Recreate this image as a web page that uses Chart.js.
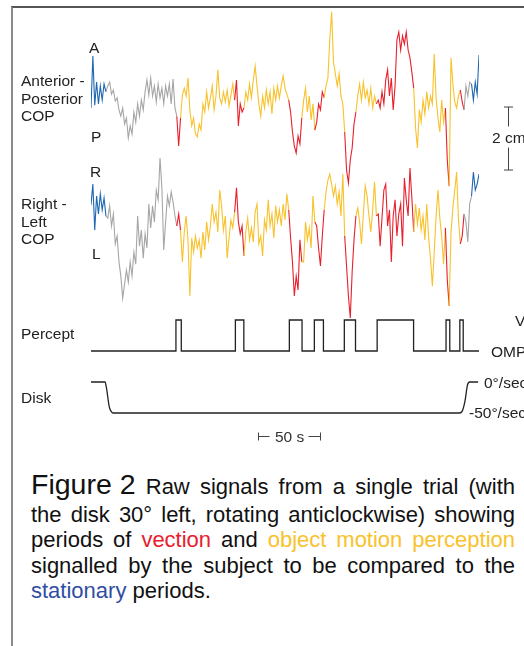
<!DOCTYPE html>
<html>
<head>
<meta charset="utf-8">
<script src="https://cdn.jsdelivr.net/npm/chart.js@4.4.1/dist/chart.umd.min.js"></script>
<style>
  html, body { margin: 0; padding: 0; background: #fff; }
  body {
    width: 524px; height: 646px; position: relative; overflow: hidden;
    font-family: "Liberation Sans", Arial, Helvetica, sans-serif; color: #1a1a1a;
  }
  #frame {
    position: absolute; left: 11px; top: 6px; width: 540px; height: 660px;
    border-top: 2px solid #555; border-left: 2px solid #8a8a8a;
  }
  #chart { position: absolute; left: 0; top: 0; }
  .lbl { position: absolute; font-size: 15.5px; line-height: 17.5px; white-space: nowrap; color: #222; }
  #caption { position: absolute; left: 31px; top: 472px; width: 484px; font-size: 22px; line-height: 25.3px; color: #111; }
  #caption .line { text-align: justify; text-align-last: justify; white-space: nowrap; }
  #caption .first { height: 30px; }
  #caption .last { text-align: left; text-align-last: left; }
  .fig { display: inline-block; font-size: 28.5px; }
  .vec { color: #e8202e; }
  .omp { color: #f8c22c; }
  .sta { color: #2f4ea3; }
</style>
</head>
<body>
<div id="frame"></div>
<canvas id="chart" width="524" height="460"></canvas>

<div class="lbl" style="left:89px; top:39px;">A</div>
<div class="lbl" style="left:21px; top:72px;">Anterior -<br>Posterior<br>COP</div>
<div class="lbl" style="left:91px; top:128px;">P</div>

<div class="lbl" style="left:90px; top:163px;">R</div>
<div class="lbl" style="left:21px; top:195px;">Right -<br>Left<br>COP</div>
<div class="lbl" style="left:92px; top:245px;">L</div>

<div class="lbl" style="left:492px; top:129px;">2 cm</div>

<div class="lbl" style="left:21px; top:325px;">Percept</div>
<div class="lbl" style="left:515px; top:312px;">V</div>
<div class="lbl" style="left:491px; top:343px;">OMP</div>

<div class="lbl" style="left:21px; top:389px;">Disk</div>
<div class="lbl" style="left:484px; top:374px;">0°/sec</div>
<div class="lbl" style="left:469px; top:404px;">-50°/sec</div>

<div class="lbl" style="left:275px; top:428px; color:#333;">50 s</div>

<div id="caption">
  <div class="line first"><span class="fig">Figure 2</span> Raw signals from a single trial (with</div>
  <div class="line">the disk 30° left, rotating anticlockwise) showing</div>
  <div class="line">periods of <span class="vec">vection</span> and <span class="omp">object motion perception</span></div>
  <div class="line">signalled by the subject to be compared to the</div>
  <div class="line last"><span class="sta">stationary</span> periods.</div>
</div>

<script>
// one COP sample every 1.5 s
const SAMPLE_STEP_S = 1.5;

// anterior (+) / posterior (-) centre of pressure, mm
const apCop = [
  -3.8, 12.7, -2.9, 4.4, -2.5, 3.2, -1.3, 3.8, 1.3, 3.2,
  4.4, 0.6, 1.9, -1.6, -0.6, -4.4, -6.4, -3.8, -8.9, -7.0,
  -13.3, -9.5, -12.1, -5.1, -8.3, -2.5, -6.4, -1.3, -4.4, 1.3,
  5.1, 0.3, 5.7, 0, 3.2, -1.9, 3.8, -0.6, 2.5, -2.5,
  3.2, 0, 3.8, -2.5, 5.4, -3.8, -6.4, -15.9, -7.0, 0.3,
  2.5, 0, 5.7, -4.4, -9.5, -7.0, -12.1, -13.0, -8.9, -10.8,
  -2.5, -5.1, 1.3, -3.8, -0.6, 3.2, -4.4, 0, 8.3, -0.6,
  -2.5, 1.3, -1.9, 1.9, -3.2, 0.3, 3.8, -1.3, 5.1, -9.5,
  -2.5, -5.1, -3.8, 1.3, -1.3, 3.8, -0.6, 5.1, 9.5, 3.2,
  -2.5, -6.4, 0, -3.8, 1.9, -2.5, 1.3, -5.7, 2.5, -1.3,
  3.2, -0.6, 3.2, 6.4, 2.5, 0.6, -1.3, -5.1, -11.4, -15.9,
  -18.1, -12.7, -15.2, -7.0, -1.3, 2.5, -5.1, 0, -7.6, -2.5,
  -10.8, -8.3, -2.5, -4.4, 1.3, -0.6, 3.2, 5.7, 17.8, 26.7,
  10.8, 7.0, 3.2, 7.0, 0, -2.5, -11.4, -23.5, -27.6, -20.3,
  -16.5, -8.9, -5.1, 0, 3.8, -1.3, 4.4, -0.6, 1.9, -2.5,
  2.5, -3.8, 0, -2.5, -1.3, -3.8, 1.3, -2.5, 5.1, 8.3,
  0, 5.7, -4.4, 3.2, 17.8, 20.3, 14.6, 19.1, 16.5, 20.3,
  14.6, 12.1, 7.6, 2.5, -10.2, -16.5, -4.4, -8.3, -1.3, -5.7,
  1.3, -3.8, 0, -2.5, 13.3, -0.6, -7.0, -11.4, -1.3, -8.3,
  -3.8, -20.3, -28.6, 12.1, 3.8, -1.9, -3.8, 0, 1.9, -1.9,
  -4.4, 3.2, 0, 4.4, 3.8, -1.3, 4.4, 0.6, 13.0
];

// right (+) / left (-) centre of pressure, mm
const rlCop = [
  6.7, 13.3, -1.3, 9.5, 3.8, 10.2, 5.1, 8.9, 3.2, 2.5,
  6.4, 0, 3.8, -5.7, -3.2, -11.4, -15.9, -22.9, -18.4, -14.0,
  -17.8, -11.4, -15.9, -8.3, -12.1, 3.2, -6.4, -1.3, -10.2, -2.5,
  -7.0, 7.0, -0.6, 6.4, 1.3, 11.4, 8.3, 21.6, 12.1, -7.6,
  1.3, 9.5, 6.4, 10.8, 7.6, 3.2, 0, 3.8, -1.3, -11.4,
  -1.9, 3.2, -4.4, -22.2, -3.8, -8.3, -3.2, -7.0, -4.4, -10.2,
  -1.9, -7.6, 1.3, -4.4, 0, 7.0, 1.3, 4.4, -1.9, 11.4,
  6.4, -1.3, 3.2, -10.2, -3.8, 1.9, -0.6, 4.4, 12.1, 1.3,
  -2.5, 0, -9.5, -1.9, 2.5, -4.4, -0.6, -5.1, 4.4, 7.0,
  -5.7, -3.2, -9.5, 1.9, -1.3, 8.3, 0, 3.8, -3.8, 6.4,
  1.3, 5.1, 0, 7.0, 1.9, 10.2, 5.1, -3.8, -11.4, -22.2,
  -15.9, -20.3, -4.4, -11.4, -11.4, 1.3, -4.4, -0.6, -7.0, 9.5,
  1.3, 0, -7.0, -12.7, -3.2, 5.1, 10.8, 14.6, 16.5, 13.3,
  9.5, 12.7, 7.0, 10.8, 3.2, 16.5, -3.2, -12.7, -22.2, -29.2,
  -14.6, -4.4, 3.2, 5.7, 1.3, -5.7, 3.8, 12.7, 9.5, 3.2,
  -1.9, 5.1, 14.0, 3.2, 3.8, -6.4, 2.5, 11.4, 13.3, 0,
  5.1, -11.4, 3.2, 8.3, -3.2, 3.8, 7.0, -6.4, 15.2, 8.3,
  3.2, 18.4, 8.9, -1.9, 7.0, 0.6, 5.7, -1.3, 3.2, -4.4,
  7.0, -3.8, -10.2, -19.1, -8.3, 3.2, 11.4, 2.5, -3.2, -12.1,
  -0.6, -17.1, -25.4, -1.9, 5.7, 11.4, 17.1, 1.9, -5.7, -3.2,
  3.8, 1.3, -5.1, 7.0, 9.5, 17.1, 11.4, 13.3, 16.5
];

// button presses: vection (V) on / off, s
const vectionOn  = [68.3, 116.1, 159.5, 179.6, 203.7, 230.1, 285.5, 296.6];
const vectionOff = [72.6, 122.9, 169.7, 186.9, 212.7, 259.4, 288.5, 299.3];

// disk velocity, deg/s
const diskTimes = [0, 11.3, 12.3, 14.7, 16.5, 18, 296.3, 298.5, 300.8, 302.7, 304.5, 311.3];
const diskSpeed = [0, 0, -8, -40, -48, -50, -50, -47, -30, -5, 0, 0];
const diskMoveStart = 12;
const diskMoveEnd = 306;

const trialEnd = 312;

// scale bars
const cmBarTop = -3.5;     // mm on AP axis
const cmBarLength = 20;    // mm
const timeBarStart = 134;  // s
const timeBarLength = 50;  // s

const BLUE = "#1f67b1";
const GRAY = "#a6a6a6";
const YELLOW = "#f8c22c";
const RED = "#e8202e";
const INK = "#222";

function phaseColor(t) {
    if (t < diskMoveStart || t >= diskMoveEnd) return BLUE;
    if (t < vectionOn[0] || t >= vectionOff[vectionOff.length - 1]) return GRAY;
    for (let i = 0; i < vectionOn.length; i++) {
        if (t >= vectionOn[i] && t < vectionOff[i]) return RED;
    }
    return YELLOW;
}

const toPoints = (arr) => arr.map((v, i) => ({ x: i * SAMPLE_STEP_S, y: v }));

const perceptPoints = [{ x: 0, y: 0 }];
vectionOn.forEach((on, i) => {
    perceptPoints.push({ x: on, y: 0 }, { x: on, y: 1 },
                       { x: vectionOff[i], y: 1 }, { x: vectionOff[i], y: 0 });
});
perceptPoints.push({ x: trialEnd, y: 0 });

const diskPoints = diskTimes.map((t, i) => ({ x: t, y: diskSpeed[i] }));

// pixel layout of each band inside the 460px tall canvas
const CANVAS_H = 460;
function band(zeroPx, pxPerUnit) {
    return { min: -(CANVAS_H - zeroPx) / pxPerUnit, max: zeroPx / pxPerUnit };
}

const copSegment = {
    borderColor: (ctx) => phaseColor((ctx.p0.parsed.x + ctx.p1.parsed.x) / 2)
};

const scaleBars = {
    id: "scaleBars",
    afterDatasetsDraw(chart) {
        const { ctx, scales } = chart;
        ctx.save();
        ctx.strokeStyle = "#444";
        ctx.lineWidth = 1;

        // 2 cm bar
        const bx = 508.5;
        const yTop = scales.yAP.getPixelForValue(cmBarTop);
        const yBot = scales.yAP.getPixelForValue(cmBarTop - cmBarLength);
        const mid = (yTop + yBot) / 2;
        ctx.beginPath();
        ctx.moveTo(bx - 4.5, yTop); ctx.lineTo(bx + 4.5, yTop);
        ctx.moveTo(bx, yTop); ctx.lineTo(bx, mid - 12);
        ctx.moveTo(bx, mid + 9); ctx.lineTo(bx, yBot);
        ctx.moveTo(bx - 4.5, yBot); ctx.lineTo(bx + 4.5, yBot);
        ctx.stroke();

        // 50 s bar
        const ty = 436.5;
        const x0 = Math.round(scales.x.getPixelForValue(timeBarStart)) + 0.5;
        const x1 = Math.round(scales.x.getPixelForValue(timeBarStart + timeBarLength)) + 0.5;
        ctx.beginPath();
        ctx.moveTo(x0, ty - 4); ctx.lineTo(x0, ty + 4);
        ctx.moveTo(x0, ty); ctx.lineTo(x0 + 11, ty);
        ctx.moveTo(x1 - 12, ty); ctx.lineTo(x1, ty);
        ctx.moveTo(x1, ty - 4); ctx.lineTo(x1, ty + 4);
        ctx.stroke();
        ctx.restore();
    }
};

new Chart(document.getElementById("chart"), {
    type: "line",
    data: {
        datasets: [
            {
                label: "Anterior - Posterior COP",
                data: toPoints(apCop),
                yAxisID: "yAP",
                borderWidth: 1.1,
                borderColor: GRAY,
                segment: copSegment
            },
            {
                label: "Right - Left COP",
                data: toPoints(rlCop),
                yAxisID: "yRL",
                borderWidth: 1.1,
                borderColor: GRAY,
                segment: copSegment
            },
            {
                label: "Percept",
                data: perceptPoints,
                yAxisID: "yPercept",
                borderWidth: 1.3,
                borderColor: INK
            },
            {
                label: "Disk",
                data: diskPoints,
                yAxisID: "yDisk",
                borderWidth: 1.3,
                borderColor: INK,
                cubicInterpolationMode: "monotone"
            }
        ]
    },
    options: {
        responsive: false,
        animation: false,
        events: [],
        layout: { padding: { left: 91, right: 45, top: 0, bottom: 0 } },
        elements: { point: { radius: 0 }, line: { tension: 0 } },
        plugins: {
            legend: { display: false },
            tooltip: { enabled: false }
        },
        scales: {
            x: { type: "linear", min: 0, max: trialEnd, display: false },
            yAP: { type: "linear", display: false, ...band(96, 3.15) },
            yRL: { type: "linear", display: false, ...band(226, 3.15) },
            yPercept: { type: "linear", display: false, ...band(351, 31) },
            yDisk: { type: "linear", display: false, ...band(382, 0.62) }
        }
    },
    plugins: [scaleBars]
});
</script>
</body>
</html>
